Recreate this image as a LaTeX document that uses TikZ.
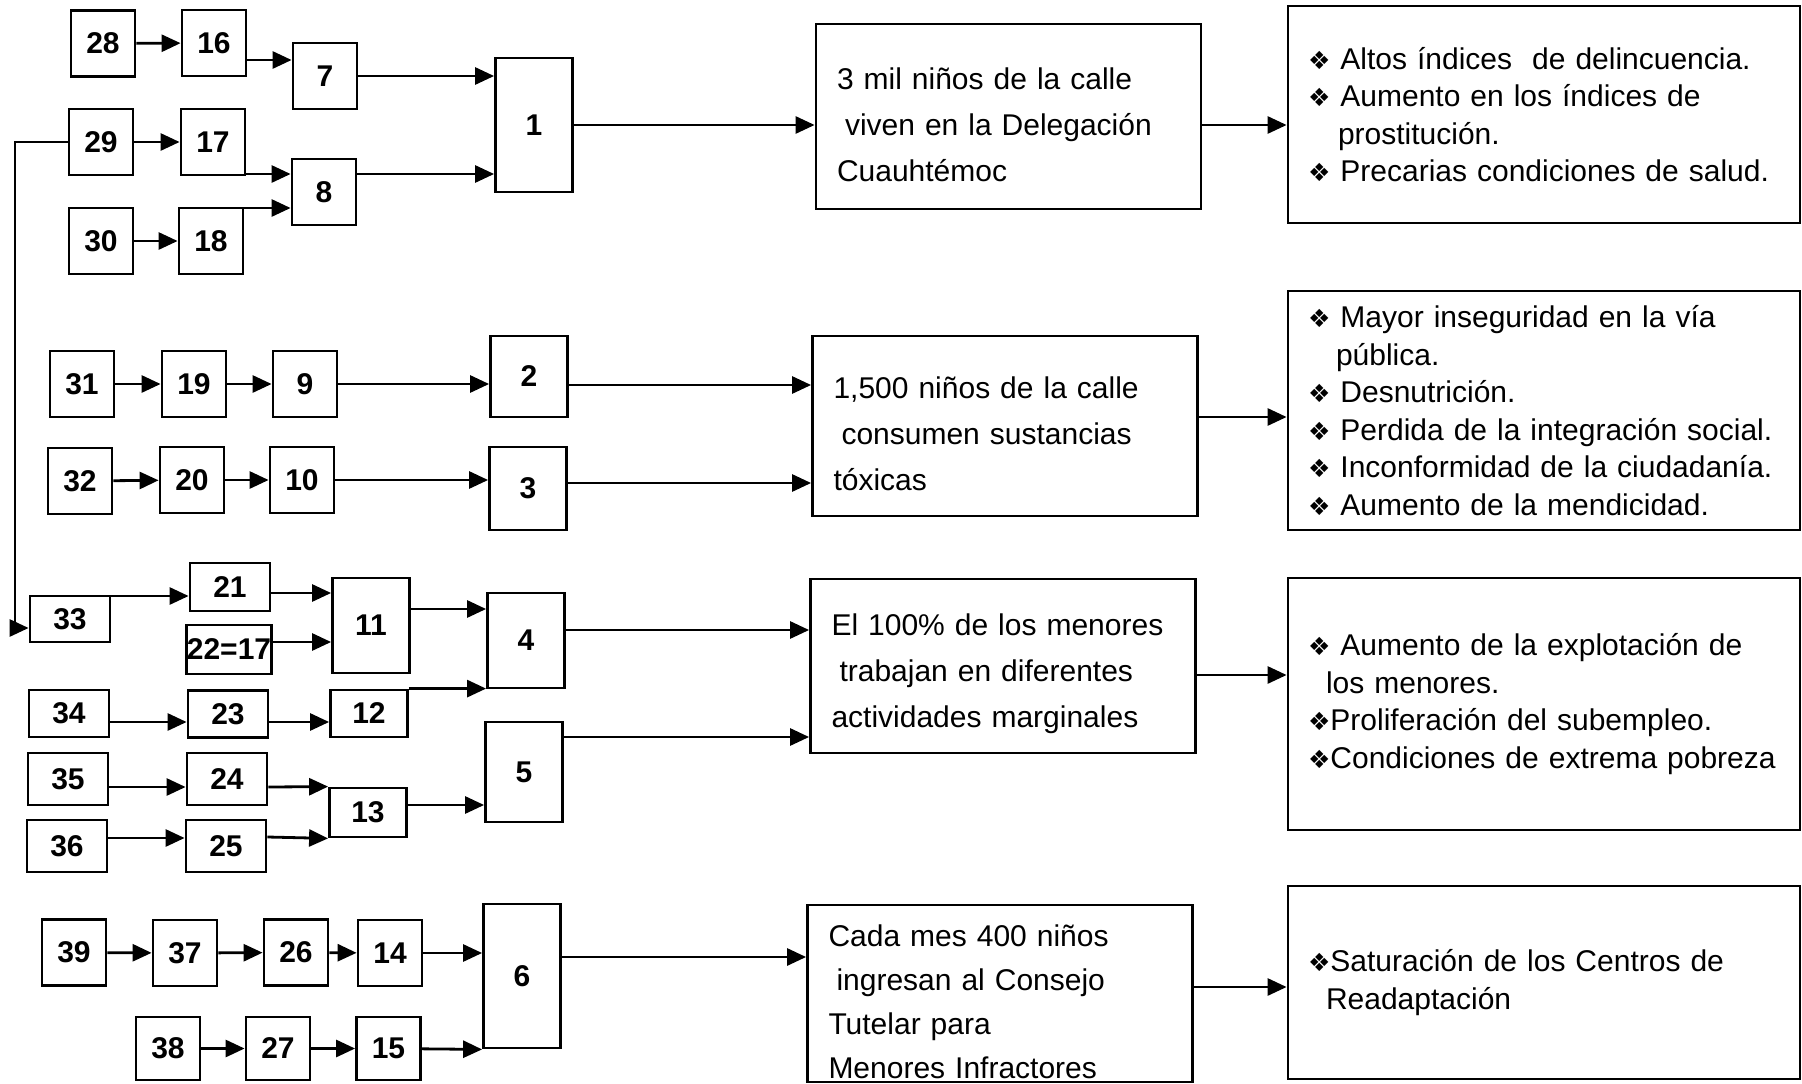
\documentclass[tikz,border=0pt]{standalone}
\usepackage{fontspec}
\setmainfont{Liberation Sans}
\newfontfamily\dingfont{DejaVu Sans}
\usetikzlibrary{arrows.meta}
\newcommand{\dmd}{{\dingfont\fontsize{25}{25}\selectfont ❖}}

\begin{document}
\begin{tikzpicture}[x=1pt, y=-1pt,
	num/.style={draw=black, line width=2.8pt, inner sep=0pt,
		minimum width=64pt, minimum height=66pt,
		font=\fontsize{30}{36}\selectfont\bfseries},
	wnum/.style={num, minimum width=80pt, minimum height=49pt},
	big/.style={num, minimum width=77pt},
	cause/.style={draw=black, line width=2.8pt, inner xsep=21pt, inner ysep=0pt,
		text width=343pt, align=left, font=\fontsize{30}{46}\selectfont,
		execute at begin node=\rule{0pt}{38pt}},
	effect/.style={draw=black, line width=2.8pt, inner xsep=20pt, inner ysep=0pt,
		text width=472pt, align=left, font=\fontsize{30}{37.5}\selectfont},
	arr/.style={line width=2.8pt, -{Triangle[length=19pt, width=17pt]}}]
	\useasboundingbox (0,0) rectangle (1802,1084);

	\node[num] (28) at (103,43.5) {28};
	\node[num] (16) at (214,43) {16};
	\node[num] (7) at (325,76) {7};
	\node[num] (29) at (101,142) {29};
	\node[num] (17) at (213,142) {17};
	\node[num] (8) at (324,192) {8};
	\node[num] (30) at (101,241) {30};
	\node[num] (18) at (211,241) {18};
	\node[big, minimum height=134pt] (1) at (534,125) {1};

	\node[num] (31) at (82,384) {31};
	\node[num] (19) at (194,384) {19};
	\node[num] (9) at (305,384) {9};
	\node[big, minimum height=81pt] (2) at (529,376.5) {2};
	\node[num] (32) at (80,481) {32};
	\node[num] (20) at (192,480) {20};
	\node[num] (10) at (302,480) {10};
	\node[big, minimum height=83pt] (3) at (528,488.5) {3};

	\node[wnum, minimum height=46pt] (33) at (70,619) {33};
	\node[wnum, minimum height=48pt] (21) at (230,587) {21};
	\node[wnum] (22) at (229,649.5) {22=17};
	\node[big, minimum height=95pt] (11) at (371,625.5) {11};
	\node[big, minimum height=95pt] (4) at (526,640.5) {4};
	\node[wnum, minimum height=47pt] (34) at (69,713.5) {34};
	\node[wnum, minimum height=47pt] (23) at (228,714) {23};
	\node[wnum, minimum width=77pt, minimum height=47pt] (12) at (369,713.5) {12};
	\node[wnum, minimum height=52pt] (35) at (68,779) {35};
	\node[wnum, minimum height=52pt] (24) at (227,779) {24};
	\node[wnum, minimum width=77pt] (13) at (368,812.5) {13};
	\node[big, minimum height=100pt] (5) at (524,772) {5};
	\node[wnum, minimum height=52pt] (36) at (67,846) {36};
	\node[wnum, minimum height=52pt] (25) at (226,846) {25};

	\node[num] (39) at (74,952.5) {39};
	\node[num] (37) at (185,953) {37};
	\node[num] (26) at (296,952.5) {26};
	\node[num] (14) at (390,953) {14};
	\node[big, minimum height=144pt] (6) at (522,976) {6};
	\node[num, minimum height=63pt] (38) at (168,1048.5) {38};
	\node[num, minimum height=63pt] (27) at (278,1048.5) {27};
	\node[num, minimum height=63pt] (15) at (388.5,1048.5) {15};

	\node[cause, minimum height=185pt] (a1) at (1008.5,116.5)
		{3 mil niños de la calle\\\hspace*{8pt}viven en la Delegación\\Cuauhtémoc};
	\node[cause, minimum height=180pt] (b1) at (1005,426)
		{1,500 niños de la calle\\\hspace*{8pt}consumen sustancias\\tóxicas};
	\node[cause, minimum height=174pt] (c1) at (1003,666)
		{El 100\% de los menores\\\hspace*{8pt}trabajan en diferentes\\actividades marginales};
	\node[cause, minimum height=177pt, execute at begin node={},
		font=\fontsize{30}{44}\selectfont] (d1) at (1000,993.5)
		{Cada mes 400 niños\\\hspace*{8pt}ingresan al Consejo\\Tutelar para\\Menores Infractores};

	\node[effect, minimum height=217pt] (e1) at (1544,114.5)
		{\dmd{} Altos índices\ \ de delincuencia.\\\dmd{} Aumento en los índices de\\\hspace*{30pt}prostitución.\\\dmd{} Precarias condiciones de salud.};
	\node[effect, minimum height=239pt] (e2) at (1544,410.5)
		{\dmd{} Mayor inseguridad en la vía\\\hspace*{28pt}pública.\\\dmd{} Desnutrición.\\\dmd{} Perdida de la integración social.\\\dmd{} Inconformidad de la ciudadanía.\\\dmd{} Aumento de la mendicidad.};
	\node[effect, minimum height=252pt] (e3) at (1544,704)
		{\dmd{} Aumento de la explotación de\\\hspace*{18pt}los menores.\\\dmd{}Proliferación del subempleo.\\\dmd{}Condiciones de extrema pobreza};
	\node[effect, minimum height=193pt] (e4) at (1544,982.5)
		{\dmd{}Saturación de los Centros de\\\hspace*{18pt}Readaptación};

	\draw[arr] (28) -- (16);
	\draw[arr] (16.east |- 0,60) -- (7.west |- 0,60);
	\draw[arr] (7) -- (7 -| 1.west);
	\draw[arr] (29) -- (17);
	\draw[arr] (17.east |- 0,174) -- (8.west |- 0,174);
	\draw[arr] (30) -- (18);
	\draw[arr] (18.east |- 0,208) -- (8.west |- 0,208);
	\draw[arr] (8.east |- 0,174) -- (1.west |- 0,174);
	\draw[arr] (1) -- (1 -| a1.west);
	\draw[arr] (a1.east |- 0,125) -- (e1.west |- 0,125);

	\draw[arr] (31) -- (19);
	\draw[arr] (19) -- (9);
	\draw[arr] (9) -- (9 -| 2.west);
	\draw[arr] (32) -- (20);
	\draw[arr] (20) -- (10);
	\draw[arr] (10) -- (10 -| 3.west);
	\draw[arr] (2.east |- 0,385) -- (b1.west |- 0,385);
	\draw[arr] (3.east |- 0,483) -- (b1.west |- 0,483);
	\draw[arr] (b1.east |- 0,417) -- (e2.west |- 0,417);

	\draw[arr] (29.west) -- (15,142) |- (33.west |- 0,628);
	\draw[arr] (33.east |- 0,596) -- (21.west |- 0,596);
	\draw[arr] (21.east |- 0,593) -- (11.west |- 0,593);
	\draw[arr] (22.east |- 0,642) -- (11.west |- 0,642);
	\draw[arr] (11.east |- 0,609) -- (4.west |- 0,609);
	\draw[arr] (12.north east) -- (12.north east -| 4.west);
	\draw[arr] (34.east |- 0,722) -- (23.west |- 0,722);
	\draw[arr] (23.east |- 0,722) -- (12.west |- 0,722);
	\draw[arr] (35.east |- 0,787) -- (24.west |- 0,787);
	\draw[arr] (24.east |- 0,787) -- (13.north west);
	\draw[arr] (36.east |- 0,838) -- (25.west |- 0,838);
	\draw[arr] (25.east |- 0,837) -- (13.south west);
	\draw[arr] (13.east |- 0,805) -- (5.west |- 0,805);
	\draw[arr] (4.east |- 0,630) -- (c1.west |- 0,630);
	\draw[arr] (5.east |- 0,737) -- (c1.west |- 0,737);
	\draw[arr] (c1.east |- 0,675) -- (e3.west |- 0,675);

	\draw[arr] (39) -- (37);
	\draw[arr] (37) -- (26);
	\draw[arr] (26) -- (14);
	\draw[arr] (14) -- (14 -| 6.west);
	\draw[arr] (38) -- (27);
	\draw[arr] (27) -- (15);
	\draw[arr] (15) -- (6.south west);
	\draw[arr] (6.east |- 0,957) -- (d1.west |- 0,957);
	\draw[arr] (d1.east |- 0,987) -- (e4.west |- 0,987);
\end{tikzpicture}
\end{document}
